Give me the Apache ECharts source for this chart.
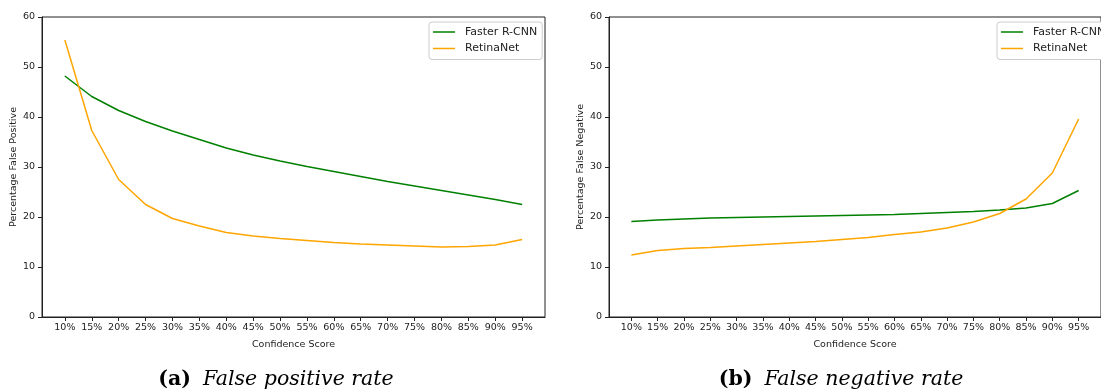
<!DOCTYPE html>
<html>
<head>
<meta charset="utf-8">
<script src="https://cdn.jsdelivr.net/npm/echarts@6/dist/echarts.min.js"></script>
<style>
  html, body { margin: 0; padding: 0; background: #fff; }
  #main { width: 1101px; height: 391px; }
</style>
</head>
<body>
<div id="main"></div>
<script>
// confidence thresholds (x axis), in percent
const confidence = [10, 15, 20, 25, 30, 35, 40, 45, 50, 55, 60, 65, 70, 75, 80, 85, 90, 95];
const yTicks = [0, 10, 20, 30, 40, 50, 60];

// (a) false positive rate
const fpFaster = [48.2, 44.1, 41.3, 39.1, 37.2, 35.5, 33.8, 32.4, 31.2, 30.1, 29.1, 28.1, 27.1, 26.2, 25.3, 24.4, 23.5, 22.5];
const fpRetina = [55.4, 37.3, 27.5, 22.5, 19.7, 18.2, 16.9, 16.2, 15.7, 15.3, 14.9, 14.6, 14.4, 14.2, 14.0, 14.1, 14.4, 15.5];

// (b) false negative rate
const fnFaster = [19.1, 19.4, 19.6, 19.8, 19.9, 20.0, 20.1, 20.2, 20.3, 20.4, 20.5, 20.7, 20.9, 21.1, 21.4, 21.8, 22.7, 25.3];
const fnRetina = [12.4, 13.3, 13.7, 13.9, 14.2, 14.5, 14.8, 15.1, 15.5, 15.9, 16.5, 17.0, 17.8, 19.0, 20.7, 23.6, 28.8, 39.6];

const GREEN = '#008000';
const ORANGE = '#FFA500';
const FONT = 'DejaVu Sans';

function pairs(ys) {
  return confidence.map((c, i) => [c, ys[i]]);
}

function xAxisOf(idx) {
  return {
    type: 'value',
    gridIndex: idx,
    min: 5.75,
    max: 99.25,
    name: 'Confidence Score',
    nameLocation: 'middle',
    nameGap: 23,
    nameTextStyle: { fontFamily: FONT, fontSize: 9.5, color: '#222' },
    axisLine: { show: true, lineStyle: { color: '#222', width: 1 } },
    axisTick: { show: true, length: 4, customValues: confidence, lineStyle: { color: '#222' } },
    axisLabel: {
      customValues: confidence,
      formatter: v => v + '%',
      fontFamily: FONT, fontSize: 9.5, color: '#222', margin: 6
    },
    splitLine: { show: false }
  };
}

function yAxisOf(idx, name) {
  return {
    type: 'value',
    gridIndex: idx,
    min: yTicks[0],
    max: yTicks[yTicks.length - 1],
    interval: 10,
    name: name,
    nameLocation: 'middle',
    nameGap: 22,
    nameTextStyle: { fontFamily: FONT, fontSize: 9.5, color: '#222' },
    axisLine: { show: true, lineStyle: { color: '#222', width: 1 } },
    axisTick: { show: true, length: 4, lineStyle: { color: '#222' } },
    axisLabel: { fontFamily: FONT, fontSize: 9.5, color: '#222', margin: 7 },
    splitLine: { show: false }
  };
}

function lineSeries(name, idx, ys, color) {
  return {
    name: name,
    type: 'line',
    xAxisIndex: idx,
    yAxisIndex: idx,
    data: pairs(ys),
    symbol: 'none',
    lineStyle: { color: color, width: 1.5 },
    itemStyle: { color: color }
  };
}

function legendAt(left) {
  return {
    left: left,
    top: 22,
    orient: 'vertical',
    icon: 'rect',
    itemWidth: 22,
    itemHeight: 1.5,
    itemGap: 2.5,
    padding: [3, 5, 4, 4],
    backgroundColor: '#fff',
    borderColor: '#ccc',
    borderWidth: 1,
    borderRadius: 3,
    textStyle: { fontFamily: FONT, fontSize: 11, color: '#222', lineHeight: 14, padding: [0, 0, 0, 5] },
    data: ['Faster R-CNN', 'RetinaNet']
  };
}

function caption(x, tag, text) {
  return {
    type: 'text',
    x: x,
    y: 380,
    style: {
      text: '{b|' + tag + '}{i|' + text + '}',
      align: 'center',
      verticalAlign: 'middle',
      fill: '#000',
      rich: {
        b: { fontFamily: 'DejaVu Serif', fontWeight: 'bold', fontSize: 20.5, fill: '#000' },
        i: { fontFamily: 'DejaVu Serif', fontStyle: 'italic', fontSize: 20.5, fill: '#000', padding: [0, 0, 0, 12] }
      }
    }
  };
}

const chart = echarts.init(document.getElementById('main'));
chart.setOption({
  animation: false,
  backgroundColor: '#fff',
  grid: [
    { left: 42, top: 17, width: 503, height: 300, show: true, borderColor: '#222', borderWidth: 1 },
    { left: 609, top: 17, width: 503, height: 300, show: true, borderColor: '#222', borderWidth: 1 }
  ],
  xAxis: [xAxisOf(0), xAxisOf(1)],
  yAxis: [yAxisOf(0, 'Percentage False Positive'), yAxisOf(1, 'Percentage False Negative')],
  legend: [legendAt(429), legendAt(997)],
  series: [
    lineSeries('Faster R-CNN', 0, fpFaster, GREEN),
    lineSeries('RetinaNet', 0, fpRetina, ORANGE),
    lineSeries('Faster R-CNN', 1, fnFaster, GREEN),
    lineSeries('RetinaNet', 1, fnRetina, ORANGE)
  ],
  graphic: [
    caption(276, '(a)', 'False positive rate'),
    caption(841, '(b)', 'False negative rate')
  ]
});
</script>
</body>
</html>
